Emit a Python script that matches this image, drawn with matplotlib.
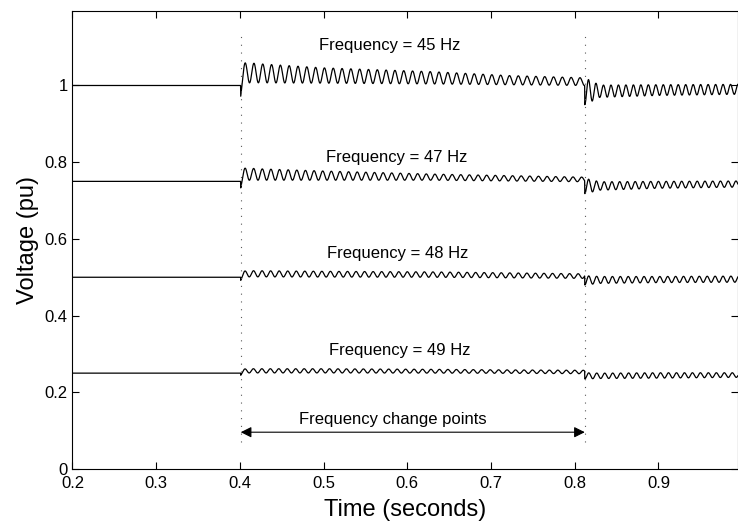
import numpy as np
import matplotlib
matplotlib.use('Agg')
from matplotlib import pyplot as plt

plt.rcParams['font.family'] = ['Liberation Sans', 'DejaVu Sans']

# steady levels of the four traces (pu) and their labels
levels = [1.0, 0.75, 0.5, 0.25]
labels = ['Frequency = 45 Hz', 'Frequency = 47 Hz', 'Frequency = 48 Hz', 'Frequency = 49 Hz']
label_x = [0.579, 0.587, 0.589, 0.591]
label_y = [1.105, 0.813, 0.563, 0.31]

# frequency change instants (s)
t_change1 = 0.401
t_change2 = 0.812

# envelope, first disturbed part (0.401 .. 0.812 s)
tA = [0.401, 0.42, 0.5, 0.63, 0.72, 0.812]
offA = [[0.035, 0.032, 0.026, 0.020, 0.014, 0.010],
        [0.020, 0.018, 0.015, 0.011, 0.008, 0.005],
        [0.009, 0.009, 0.008, 0.007, 0.005, 0.003],
        [0.006, 0.006, 0.006, 0.005, 0.004, 0.003]]
ampA = [[0.028, 0.025, 0.020, 0.016, 0.012, 0.010],
        [0.017, 0.015, 0.012, 0.008, 0.007, 0.006],
        [0.008, 0.008, 0.0075, 0.007, 0.0065, 0.006],
        [0.0055, 0.0055, 0.0055, 0.005, 0.0045, 0.0045]]
rippleA = [95, 97, 98, 99]  # Hz

# second disturbed part (0.812 .. end)
tB = [0.812, 0.83, 0.9, 0.995]
offB = [[-0.015, -0.015, -0.012, -0.010],
        [-0.012, -0.012, -0.009, -0.007],
        [-0.008, -0.007, -0.006, -0.005],
        [-0.007, -0.007, -0.006, -0.005]]
ampB = [[0.035, 0.016, 0.014, 0.013],
        [0.020, 0.011, 0.009, 0.008],
        [0.012, 0.009, 0.008, 0.008],
        [0.008, 0.007, 0.007, 0.006]]
rippleB = [112, 108, 106, 105]  # Hz

t = np.arange(0.2, 0.995, 0.0002)


def build_trace(i):
    v = np.full_like(t, levels[i])
    a = (t >= t_change1) & (t < t_change2)
    ta = t[a] - t_change1
    ramp = 1 - np.exp(-ta / 0.002)
    v[a] += np.interp(t[a], tA, offA[i]) * ramp \
        - np.interp(t[a], tA, ampA[i]) * np.cos(2 * np.pi * rippleA[i] * ta)
    b = t >= t_change2
    tb = t[b] - t_change2
    v[b] += np.interp(t[b], tB, offB[i]) \
        - np.interp(t[b], tB, ampB[i]) * np.cos(2 * np.pi * rippleB[i] * tb)
    return v


fig = plt.figure(figsize=(7.38, 5.22), dpi=100)
ax = fig.add_axes([0.0982, 0.1015, 0.9018, 0.878])

for i in range(len(levels)):
    ax.plot(t, build_trace(i), color='k', lw=0.9)
    ax.text(label_x[i], label_y[i], labels[i], ha='center', va='center', fontsize=12)

# dotted markers at the change points
for tc in [t_change1, t_change2]:
    ax.plot([tc, tc], [0.07, 1.13], color='0.35', lw=0.8, linestyle=(0, (1, 6)))

ax.annotate('', xy=(t_change1, 0.096), xytext=(t_change2, 0.096),
            arrowprops=dict(arrowstyle='<|-|>', color='k', lw=0.8,
                            mutation_scale=16, shrinkA=0, shrinkB=0))
ax.text(0.583, 0.128, 'Frequency change points', ha='center', va='center', fontsize=12)

ax.set_xlim(0.2, 0.995)
ax.set_ylim(0, 1.195)
ax.set_xticks([0.2, 0.3, 0.4, 0.5, 0.6, 0.7, 0.8, 0.9])
ax.set_xticklabels(['0.2', '0.3', '0.4', '0.5', '0.6', '0.7', '0.8', '0.9'])
ax.set_yticks([0, 0.2, 0.4, 0.6, 0.8, 1.0])
ax.set_yticklabels(['0', '0.2', '0.4', '0.6', '0.8', '1'])
ax.tick_params(direction='in', top=True, right=True, length=5, labelsize=12, width=0.8)
ax.tick_params(axis='x', pad=5)
for s in ax.spines.values():
    s.set_linewidth(0.8)
ax.set_xlabel('Time (seconds)', fontsize=17, labelpad=6)
ax.set_ylabel('Voltage (pu)', fontsize=17, labelpad=4)

fig.savefig('out.png', dpi=100)
